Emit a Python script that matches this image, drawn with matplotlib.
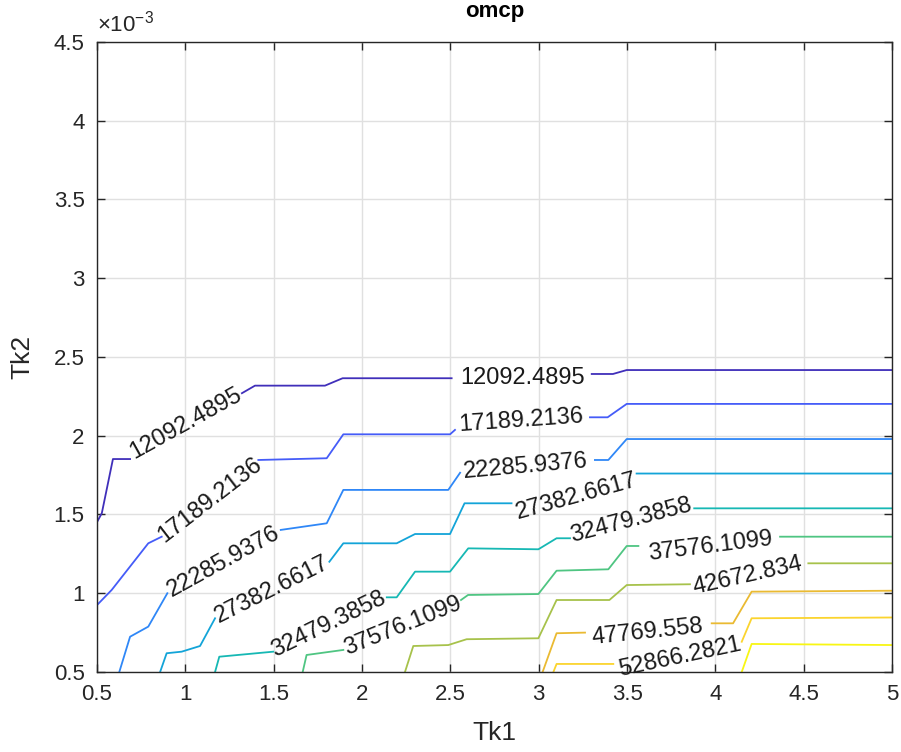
import numpy as np
import matplotlib.pyplot as plt
from matplotlib.colors import LinearSegmentedColormap, Normalize

plt.rcParams['font.family'] = ['Liberation Sans', 'DejaVu Sans']
plt.rcParams['mathtext.default'] = 'regular'

# contour levels (labels in the picture)
levels = [12092.4895, 17189.2136, 22285.9376, 27382.6617, 32479.3858,
          37576.1099, 42672.834, 47769.558, 52866.2821, 57963.0057]
label_text = ['12092.4895', '17189.2136', '22285.9376', '27382.6617', '32479.3858',
              '37576.1099', '42672.834', '47769.558', '52866.2821', '57963.0057']

# contour paths: Tk1, Tk2 (x 1e-3); nan = gap for a label
tk1_c0 = [0.5, 0.527, 0.59, 0.687, np.nan, 1.32, 1.394, 1.79, 1.89, 2.507, np.nan, 3.30, 3.42, 3.498, 5.0]
tk2_c0 = [1.452, 1.508, 1.852, 1.852, np.nan, 2.27, 2.318, 2.318, 2.365, 2.365, np.nan, 2.392, 2.392, 2.417, 2.417]

tk1_c1 = [0.5, 0.583, 0.79, 0.866, np.nan, 1.413, 1.80, 1.894, 2.498, 2.526, np.nan, 3.29, 3.39, 3.498, 5.0]
tk2_c1 = [0.925, 1.021, 1.317, 1.359, np.nan, 1.846, 1.857, 2.009, 2.009, 2.037, np.nan, 2.117, 2.117, 2.202, 2.202]

tk1_c2 = [0.626, 0.687, 0.79, 0.898, np.nan, 1.54, 1.80, 1.894, 2.488, 2.555, np.nan, 3.318, 3.394, 3.498, 5.0]
tk2_c2 = [0.5, 0.724, 0.788, 1.0, np.nan, 1.402, 1.444, 1.656, 1.656, 1.765, np.nan, 1.846, 1.846, 1.979, 1.979]

tk1_c3 = [0.857, 0.894, 0.979, 1.083, 1.168, np.nan, 1.815, 1.894, 2.196, 2.3, 2.498, 2.58, 2.846, np.nan, 3.554, 5.0]
tk2_c3 = [0.5, 0.619, 0.629, 0.665, 0.841, np.nan, 1.2, 1.317, 1.317, 1.376, 1.376, 1.571, 1.571, np.nan, 1.76, 1.76]

tk1_c4 = [1.168, 1.192, 1.498, np.nan, 2.14, 2.196, 2.3, 2.498, 2.601, 2.998, 3.101, 3.177, np.nan, 3.88, 5.0]
tk2_c4 = [0.5, 0.597, 0.629, np.nan, 0.974, 0.974, 1.137, 1.137, 1.285, 1.279, 1.349, 1.349, np.nan, 1.539, 1.539]

tk1_c5 = [1.664, 1.686, 1.894, np.nan, 2.56, 2.6, 2.998, 3.101, 3.394, 3.498, 3.564, np.nan, 4.366, 5.0]
tk2_c5 = [0.5, 0.608, 0.64, np.nan, 0.957, 0.989, 0.995, 1.143, 1.152, 1.3, 1.3, np.nan, 1.359, 1.359]

tk1_c6 = [2.243, 2.29, 2.488, 2.592, 2.998, 3.101, 3.4, 3.498, 3.856, np.nan, 4.526, 5.0]
tk2_c6 = [0.5, 0.665, 0.671, 0.708, 0.714, 0.957, 0.957, 1.052, 1.057, np.nan, 1.19, 1.19]

tk1_c7 = [3.022, 3.101, 3.262, np.nan, 3.979, 4.1, 4.205, 5.0]
tk2_c7 = [0.5, 0.746, 0.75, np.nan, 0.809, 0.809, 1.01, 1.016]

tk1_c8 = [3.083, 3.101, 3.422, np.nan, 4.149, 4.205, 5.0]
tk2_c8 = [0.5, 0.551, 0.551, np.nan, 0.692, 0.841, 0.846]

tk1_c9 = [4.149, 4.205, 5.0]
tk2_c9 = [0.5, 0.678, 0.671]

tk1_paths = [tk1_c0, tk1_c1, tk1_c2, tk1_c3, tk1_c4, tk1_c5, tk1_c6, tk1_c7, tk1_c8, tk1_c9]
tk2_paths = [tk2_c0, tk2_c1, tk2_c2, tk2_c3, tk2_c4, tk2_c5, tk2_c6, tk2_c7, tk2_c8, tk2_c9]

# inline labels: level index, Tk1, Tk2, angle
label_spots = [(0, 1.004, 2.075, 29), (0, 2.906, 2.367, 0),
               (1, 1.14, 1.592, 37.6), (1, 2.9, 2.094, 4),
               (2, 1.216, 1.198, 28.8), (2, 2.923, 1.802, 5),
               (3, 1.49, 1.021, 26.6), (3, 3.215, 1.613, 15.5),
               (4, 1.81, 0.805, 26), (4, 3.52, 1.46, 14.6),
               (5, 2.229, 0.789, 22), (5, 3.97, 1.3, 7),
               (6, 4.18, 1.11, 12.7),
               (7, 3.616, 0.751, 6),
               (8, 3.80, 0.595, 12)]

# approximate parula
parula = LinearSegmentedColormap.from_list('parula', [
    (0.2422, 0.1504, 0.6603), (0.2781, 0.2788, 0.9256), (0.2681, 0.3967, 0.9929),
    (0.1880, 0.5236, 0.9736), (0.1110, 0.6143, 0.8870), (0.0308, 0.6818, 0.7928),
    (0.0968, 0.7290, 0.6879), (0.2645, 0.7709, 0.5393), (0.5137, 0.7758, 0.3795),
    (0.7637, 0.7505, 0.2279), (0.9180, 0.7297, 0.1950), (0.9929, 0.7866, 0.2048),
    (0.9657, 0.9045, 0.1438), (0.9763, 0.9831, 0.0538)])
norm = Normalize(vmin=11000, vmax=59000)

fig = plt.figure(figsize=(9.01, 7.52), dpi=100)
ax = fig.add_axes([0.1077, 0.1064, 0.8824, 0.8378])

for i, lev in enumerate(levels):
    ax.plot(tk1_paths[i], tk2_paths[i], color=parula(norm(lev)), lw=1.3)

for i, x, y, ang in label_spots:
    ax.text(x, y, label_text[i], fontsize=17, rotation=ang, rotation_mode='anchor',
            ha='center', va='center', color='#1a1a1a')

ax.set_xlim(0.5, 5)
ax.set_ylim(0.5, 4.5)
ax.set_xticks(np.arange(0.5, 5.01, 0.5))
ax.set_yticks(np.arange(0.5, 4.51, 0.5))
ax.set_xticklabels(['%g' % v for v in np.arange(0.5, 5.01, 0.5)])
ax.set_yticklabels(['%g' % v for v in np.arange(0.5, 4.51, 0.5)])
ax.tick_params(direction='in', length=6, width=1, top=True, right=True,
               labelsize=16, colors='#262626', pad=9)
ax.grid(True, color='#e0e0e0', lw=1)
ax.set_axisbelow(True)
for s in ax.spines.values():
    s.set_color('#262626')
    s.set_linewidth(1)

ax.text(0.0, 1.008, '×10$^{-3}$', transform=ax.transAxes, ha='left', va='bottom',
        fontsize=16, color='#262626')
ax.set_title('omcp', fontsize=16, fontweight='bold', pad=18, color='black')
ax.set_xlabel('Tk1', fontsize=19, color='#262626')
ax.set_ylabel('Tk2', fontsize=19, color='#262626')
ax.xaxis.set_label_coords(0.5, -0.097)
ax.xaxis.label.set_va('center')
ax.yaxis.set_label_coords(-0.094, 0.5)
ax.yaxis.label.set_va('center')

fig.savefig('out.png', dpi=100)
